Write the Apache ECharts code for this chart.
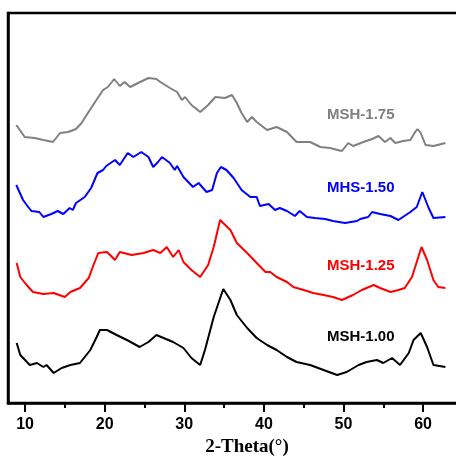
<!DOCTYPE html>
<html>
<head>
<meta charset="utf-8">
<script src="https://cdn.jsdelivr.net/npm/echarts@6/dist/echarts.min.js"></script>
<style>
  html, body { margin: 0; padding: 0; background: #fff; }
  #main { width: 456px; height: 460px; }
</style>
</head>
<body>
<div id="main"></div>
<script>
// 2-theta ticks
var majorTicks = [10, 20, 30, 40, 50, 60];
var minorTicks = [15, 25, 35, 45, 55, 65];

// MSH-1.75 (grey)
var thetaGray = [8.9, 9.96, 11.2, 12.3, 13.5, 14.4, 15.4, 16.4, 17.1, 17.9, 18.8, 19.8, 20.4, 21.2, 21.9, 22.5, 23.2, 24.2, 25.5, 26.5, 27, 28.2, 29.1, 29.7, 30.1, 30.9, 32, 33, 33.9, 35.1, 36, 36.6, 37.2, 37.9, 38.5, 39.1, 40.4, 41.6, 42.9, 44.1, 45.8, 47.1, 48.3, 49.8, 50.6, 51.2, 52.5, 53.6, 54.4, 55.2, 55.9, 56.5, 57.5, 58.4, 59, 59.3, 59.7, 60.3, 61.3, 62.8];
var intGray = [278, 266, 265, 263, 261, 270, 271, 274, 280, 290, 301, 313, 316, 324, 317, 321, 316, 320, 325, 324, 321, 315, 311, 303, 306, 298, 291, 298, 306, 305, 308, 300, 290, 281, 286, 281, 273, 276, 271, 261, 261, 256, 255, 252, 260, 257, 261, 264, 267, 261, 265, 260, 262, 263, 271, 274, 270, 258, 257, 260];

// MHS-1.50 (blue)
var thetaBlue = [8.9, 9.75, 10.4, 10.8, 11.8, 12.3, 13.3, 14.1, 14.8, 15.6, 16, 16.4, 17.5, 18.3, 19.1, 19.8, 20.2, 21.3, 21.9, 22.9, 23.6, 24.6, 25.5, 26.1, 26.7, 27.2, 28.2, 28.8, 29.1, 29.9, 31.1, 31.8, 32.8, 33.5, 34.1, 34.6, 35.3, 36.2, 37.2, 38.3, 39.1, 39.5, 40.6, 41.4, 42, 42.9, 43.9, 44.5, 45.4, 46.4, 47.7, 48.7, 50.2, 51.7, 52.1, 53.1, 53.6, 54.6, 55.9, 56.9, 58.4, 59.2, 59.9, 60.7, 61.3, 62.8];
var intBlue = [218, 203, 196, 192, 191, 186, 189, 192, 189, 195, 193, 200, 206, 215, 230, 233, 237, 243, 238, 250, 246, 251, 246, 236, 241, 246, 240, 233, 237, 226, 216, 220, 211, 213, 230, 236, 233, 225, 213, 206, 206, 197, 199, 193, 195, 192, 187, 192, 186, 185, 184, 182, 180, 182, 184, 186, 191, 189, 187, 183, 191, 196, 211, 195, 185, 186];

// MSH-1.25 (red)
var thetaRed = [8.95, 9.4, 10.2, 11, 12.3, 13.6, 15, 15.7, 16.9, 18, 18.6, 19.2, 20.3, 21.3, 21.9, 23.4, 24.9, 26.1, 27, 27.8, 28.6, 29.3, 29.9, 30.9, 32, 33, 33.7, 34.5, 35.8, 36.6, 37.9, 39.1, 40.2, 40.8, 41.6, 42.9, 43.7, 45, 46.2, 47.5, 48.7, 49.8, 51.2, 52.3, 53.8, 54.6, 55.9, 56.9, 57.7, 58.6, 59.4, 59.8, 60.5, 61.3, 61.9, 62.8];
var intRed = [140, 126, 118, 111, 109, 110, 106, 111, 115, 125, 138, 150, 151, 143, 151, 148, 150, 153, 150, 156, 146, 153, 141, 133, 126, 138, 156, 183, 173, 160, 150, 140, 131, 131, 126, 121, 116, 113, 110, 108, 106, 103, 108, 113, 118, 115, 111, 113, 115, 126, 146, 156, 143, 123, 116, 115];

// MSH-1.00 (black)
var thetaBlack = [8.95, 9.4, 10.6, 11.5, 12.3, 12.7, 13.6, 14.6, 15.7, 16.9, 18.2, 19, 19.4, 20.3, 21.5, 22.8, 24.4, 25.5, 26.5, 27.4, 28.6, 29.9, 30.9, 32, 32.6, 33.7, 34.9, 35.8, 36.6, 37.9, 39.1, 40.4, 41.6, 42.9, 44.1, 45.8, 47.5, 49.2, 50.4, 51.9, 52.9, 54.2, 55, 56.1, 57.1, 58.2, 58.8, 59.7, 60.5, 61.3, 62.8];
var intBlack = [60, 48, 38, 40, 36, 38, 30, 35, 38, 40, 53, 66, 73, 73, 68, 63, 56, 61, 68, 65, 61, 55, 45, 38, 53, 86, 114, 103, 88, 75, 65, 58, 53, 46, 41, 38, 33, 28, 31, 38, 41, 43, 40, 45, 38, 50, 63, 70, 56, 38, 36];

var names = ['MSH-1.75', 'MHS-1.50', 'MSH-1.25', 'MSH-1.00'];
var colors = ['#808080', '#0000ff', '#ff0000', '#000000'];

function pairs(xs, ys) {
  var out = [];
  for (var i = 0; i < xs.length; i++) out.push([xs[i], ys[i]]);
  return out;
}

var chart = echarts.init(document.getElementById('main'), null, { renderer: 'canvas' });

var seriesData = [
  pairs(thetaGray, intGray),
  pairs(thetaBlue, intBlue),
  pairs(thetaRed, intRed),
  pairs(thetaBlack, intBlack)
];

var labelTops = [107, 180, 258, 329];

// the frame runs past the right edge of the picture
var xMin = 7.86, xMax = 67.9;

var option = {
  backgroundColor: '#fff',
  animation: false,
  grid: {
    left: 8,
    top: 13,
    width: 478,
    bottom: 57,
    outerBoundsMode: 'none',
    containLabel: false,
    show: true,
    borderColor: '#000',
    borderWidth: 2.5
  },
  xAxis: [{
    type: 'value',
    min: xMin,
    max: xMax,
    name: '2-Theta(°)',
    nameLocation: 'middle',
    nameGap: 34,
    nameTextStyle: {
      fontFamily: 'Liberation Serif',
      fontWeight: 'bold',
      fontSize: 19,
      color: '#000'
    },
    axisLine: { show: true, lineStyle: { color: '#000', width: 2.5 } },
    axisTick: {
      show: true,
      customValues: majorTicks,
      length: 9,
      lineStyle: { color: '#000', width: 2 }
    },
    axisLabel: {
      customValues: majorTicks,
      margin: 14,
      fontFamily: 'Liberation Sans',
      fontWeight: 'bold',
      fontSize: 16,
      color: '#000'
    },
    splitLine: { show: false }
  }, {
    type: 'value',
    min: xMin,
    max: xMax,
    position: 'bottom',
    axisLine: { show: false },
    axisTick: {
      show: true,
      customValues: minorTicks,
      length: 5,
      lineStyle: { color: '#000', width: 2 }
    },
    axisLabel: { show: false },
    splitLine: { show: false }
  }],
  yAxis: {
    type: 'value',
    min: 0,
    max: 390,
    axisLine: { show: true, lineStyle: { color: '#000', width: 2.5 } },
    axisTick: { show: false },
    axisLabel: { show: false },
    splitLine: { show: false }
  },
  graphic: names.map(function (n, i) {
    return {
      type: 'text',
      left: 327,
      top: labelTops[i],
      style: {
        text: n,
        fill: colors[i],
        font: 'bold 15px "Liberation Sans"'
      }
    };
  }),
  series: names.map(function (n, i) {
    return {
      name: n,
      type: 'line',
      xAxisIndex: 0,
      data: seriesData[i],
      showSymbol: false,
      lineStyle: { color: colors[i], width: 2 },
      itemStyle: { color: colors[i] }
    };
  })
};

chart.setOption(option);
</script>
</body>
</html>
